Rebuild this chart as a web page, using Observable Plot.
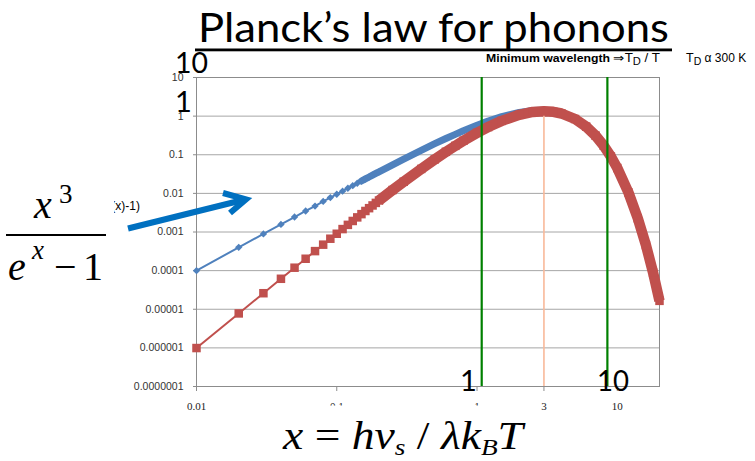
<!DOCTYPE html>
<html>
<head>
<meta charset="utf-8">
<script src="https://cdn.jsdelivr.net/npm/d3@7"></script>
<script src="https://cdn.jsdelivr.net/npm/@observablehq/plot@0.6"></script>
<style>
  html, body { margin: 0; padding: 0; background: #fff; }
  #chart { position: relative; width: 755px; height: 461px; overflow: hidden; }
  #chart > svg { position: absolute; left: 0; top: 0; }
  #notes { pointer-events: none; }
</style>
</head>
<body>
<div id="chart"></div>
<script>
// Dimensionless phonon energy x = hν / kT
const xValues = [0.01, 0.02, 0.03, 0.04, 0.05, 0.06, 0.07, 0.08, 0.09, 0.1,
  0.11, 0.12, 0.13, 0.14, 0.15, 0.16, 0.17, 0.18, 0.19, 0.2,
  0.25, 0.3, 0.4, 0.5, 0.6, 0.7, 0.8, 1, 1.2, 1.5, 2, 2.5,
  3, 3.5, 4, 5, 6, 7, 8, 9, 10, 12, 14, 16, 18, 20];

// Planck form x^3/(e^x - 1)
const planckValues = [0.0001, 0.0004, 0.00089, 0.00157, 0.00244, 0.0035, 0.0047, 0.0062, 0.0078, 0.0095,
  0.0114, 0.0136, 0.0158, 0.0183, 0.0209, 0.0236, 0.0265, 0.0296, 0.0328, 0.0361,
  0.055, 0.077, 0.13, 0.193, 0.263, 0.338, 0.418, 0.582, 0.745, 0.969, 1.25, 1.40,
  1.41, 1.33, 1.19, 0.848, 0.537, 0.313, 0.172, 0.09, 0.0454, 0.0106, 0.00228, 0.00046, 0.000089, 0.0000165];

// Wien form x^3 e^-x
const wienValues = [0.00000099, 0.0000078, 0.000026, 0.0000615, 0.000119, 0.000203, 0.00032, 0.00047, 0.00067, 0.0009,
  0.00119, 0.00153, 0.00193, 0.00239, 0.0029, 0.0035, 0.00414, 0.00487, 0.00567, 0.00655,
  0.0122, 0.02, 0.043, 0.076, 0.119, 0.17, 0.23, 0.368, 0.52, 0.753, 1.08, 1.28,
  1.34, 1.29, 1.17, 0.842, 0.535, 0.313, 0.172, 0.09, 0.0454, 0.0106, 0.00228, 0.00046, 0.000089, 0.0000165];

const yTicks = [1e-7, 1e-6, 1e-5, 1e-4, 1e-3, 0.01, 0.1, 1, 10];
const yTickLabels = ["0.0000001", "0.000001", "0.00001", "0.0001", "0.001", "0.01", "0.1", "1", "10"];
const xTicks = [0.01, 0.1, 1, 3, 10];
const xTickLabels = ["0.01", "0.1", "1", "3", "10"];

// Vertical guides: the two green bounds and the peak position
const boundLines = [1.08, 8.5];
const peakX = [3];
const peakY = [1.34];

const planck = xValues.map((x, i) => ({x, y: planckValues[i]}));
const wien = xValues.map((x, i) => ({x, y: wienValues[i]}));
const peak = peakX.map((x, i) => ({x, y: peakY[i]}));
const yTickData = yTicks.map((v, i) => ({v, label: yTickLabels[i]}));
const xTickData = xTicks.map((v, i) => ({v, label: xTickLabels[i]}));

const BLUE = "#4F81BD", RED = "#C0504D";

const plot = Plot.plot({
  width: 755,
  height: 461,
  marginLeft: 196,
  marginRight: 96,
  marginTop: 77,
  marginBottom: 75,
  style: {background: "#fff", fontFamily: "'Liberation Sans', Arial, sans-serif"},
  x: {type: "log", domain: [0.01, 20]},
  y: {type: "log", domain: [1e-7, 10]},
  marks: [
    Plot.ruleY(yTicks, {stroke: "#a6a6a6", strokeWidth: 1}),
    Plot.frame({stroke: "#8c8c8c"}),
    // tick marks only; the labels are drawn as text marks below
    Plot.axisY({ticks: yTicks, tickFormat: () => "", tickSize: 3, stroke: "#8c8c8c", label: null}),
    Plot.axisX({ticks: xTicks, tickFormat: () => "", tickSize: 5, stroke: "#8c8c8c", label: null}),
    Plot.text(yTickData, {y: "v", text: "label", frameAnchor: "left", textAnchor: "end", dx: -13,
      fontSize: 10.5, fill: "#333", fontFamily: "'Liberation Sans', Arial, sans-serif"}),
    Plot.text(xTickData, {x: "v", text: "label", frameAnchor: "bottom", lineAnchor: "middle", dy: 20,
      fontSize: 11, fill: "#222", fontFamily: "'Liberation Serif', serif"}),

    // Planck curve: thin connector, solid band where markers crowd together, diamonds
    Plot.line(planck, {x: "x", y: "y", stroke: BLUE, strokeWidth: 2}),
    Plot.line(planck, {x: "x", y: "y", filter: d => d.x >= 0.15, stroke: BLUE, strokeWidth: 7,
      strokeLinecap: "round", strokeLinejoin: "round"}),
    Plot.dot(planck, {x: "x", y: "y", filter: d => d.x <= 0.2, symbol: "diamond2", r: 3.3, fill: BLUE, stroke: null}),

    // Wien curve: thin connector, solid band, squares
    Plot.line(wien, {x: "x", y: "y", stroke: RED, strokeWidth: 2}),
    Plot.line(wien, {x: "x", y: "y", filter: d => d.x >= 0.2, stroke: RED, strokeWidth: 10.5,
      strokeLinecap: "butt", strokeLinejoin: "round"}),
    Plot.dot(wien, {x: "x", y: "y", symbol: "square", r: 4.8, fill: RED, stroke: null}),

    Plot.ruleX(boundLines, {stroke: "#008000", strokeWidth: 2.2}),
    Plot.ruleX(peak, {x: "x", y1: 1e-7, y2: "y", stroke: "#F9B99A", strokeWidth: 1.6, insetBottom: -5})
  ]
});

const chart = document.getElementById("chart");
chart.appendChild(plot);

// Title, formulas and hand-placed annotations drawn over the plot
const NS = "http://www.w3.org/2000/svg";
const notes = document.createElementNS(NS, "svg");
notes.setAttribute("id", "notes");
notes.setAttribute("width", 755);
notes.setAttribute("height", 461);
notes.innerHTML = `
  <text x="198" y="42" font-family="Lato, 'Open Sans', sans-serif" font-size="40.5" fill="#000"
        textLength="471" lengthAdjust="spacingAndGlyphs">Planck’s law for phonons</text>
  <rect x="195" y="48.5" width="477" height="2.8" fill="#000"/>

  <g font-family="Lato, 'Open Sans', sans-serif" font-size="29" fill="#000">
    <text x="175" y="73" textLength="33" lengthAdjust="spacingAndGlyphs">10</text>
    <text x="175" y="112">1</text>
    <text x="460" y="391">1</text>
    <text x="597" y="391" textLength="32" lengthAdjust="spacingAndGlyphs">10</text>
  </g>

  <text x="486" y="62" font-family="'Liberation Sans', Arial, sans-serif" fill="#000"
        textLength="174" lengthAdjust="spacingAndGlyphs"><tspan font-size="11" font-weight="bold">Minimum wavelength </tspan><tspan font-size="12">⇒T</tspan><tspan font-size="10" dy="3">D</tspan><tspan font-size="12" dy="-3"> / T</tspan></text>
  <text x="686" y="62" font-family="'Liberation Sans', Arial, sans-serif" fill="#000"><tspan font-size="12.5">T</tspan><tspan font-size="10.5" dy="3">D</tspan><tspan font-size="12" dy="-3">  α 300 K</tspan></text>

  <text x="140" y="210" text-anchor="end" font-family="'Liberation Sans', Arial, sans-serif" font-size="12" fill="#000">x^3/(exp(x)-1)</text>
  <rect x="0" y="165" width="114" height="125" fill="#fff"/>
  <g font-family="'Liberation Serif', 'Times New Roman', serif" fill="#000">
    <text x="34" y="218" font-size="40" font-style="italic">x</text>
    <text x="59" y="203" font-size="27">3</text>
    <rect x="6" y="234" width="100" height="2" fill="#000"/>
    <text x="8" y="280" font-size="40" font-style="italic">e</text>
    <text x="32" y="259" font-size="27" font-style="italic">x</text>
    <text x="54" y="280" font-size="40">−</text>
    <text x="83" y="280" font-size="40">1</text>
  </g>

  <path d="M128,228.5 L245,199.5" stroke="#0070C0" stroke-width="6" fill="none"/>
  <path d="M223,193 L246,199.3 L230,213" stroke="#0070C0" stroke-width="6" fill="none"
        stroke-linejoin="miter" stroke-linecap="butt"/>

  <rect x="268" y="405.5" width="272" height="56" fill="#fff"/>
  <text x="283" y="449" font-family="'Liberation Serif', 'Times New Roman', serif" font-size="40" fill="#000"
        textLength="240" lengthAdjust="spacingAndGlyphs"><tspan font-style="italic">x</tspan><tspan> = </tspan><tspan font-style="italic">hv</tspan><tspan font-style="italic" font-size="24" dy="6">s</tspan><tspan dy="-6"> / </tspan><tspan font-style="italic">λk</tspan><tspan font-style="italic" font-size="24" dy="6">B</tspan><tspan font-style="italic" dy="-6">T</tspan></text>
`;
chart.appendChild(notes);
</script>
</body>
</html>
